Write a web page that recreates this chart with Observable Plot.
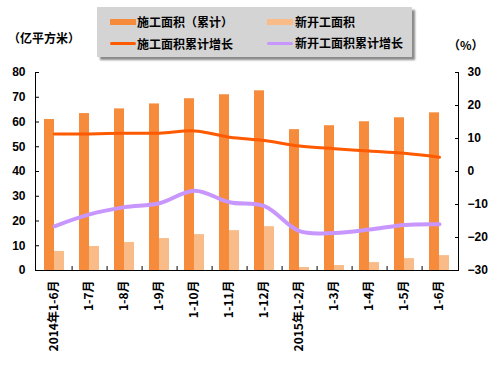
<!DOCTYPE html>
<html><head><meta charset="utf-8">
<script src="https://cdn.jsdelivr.net/npm/d3@7"></script>
<script src="https://cdn.jsdelivr.net/npm/@observablehq/plot@0.6"></script>
<style>
body{margin:0;background:#fff;font-family:"Noto Sans CJK SC",sans-serif;}
#wrap{position:relative;width:496px;height:365px;}
#legend{position:absolute;left:97px;top:7px;width:315px;height:50px;background:#d4d4d4;box-shadow:3px 3px 2px #8a8a8a;}
.it{position:absolute;font-size:12px;font-weight:bold;line-height:14px;color:#000;white-space:nowrap;}
.sw{position:absolute;}
.unit{position:absolute;font-size:12px;font-weight:bold;color:#000;white-space:nowrap;}
</style></head>
<body><div id="wrap">
<div id="chart"></div>
<div id="legend"></div>
<div class="unit" style="left:8px;top:29px;">（亿平方米）</div>
<div class="unit" style="left:448px;top:36px;">（%）</div>
</div>
<script>
const categories = ["2014年1-6月","1-7月","1-8月","1-9月","1-10月","1-11月","1-12月","2015年1-2月","1-3月","1-4月","1-5月","1-6月"];
const constructionArea = [61.0,63.4,65.3,67.3,69.4,71.0,72.6,56.9,58.5,60.1,61.7,63.7];
const newStartArea = [7.7,9.7,11.3,12.9,14.5,16.1,17.7,1.2,2.0,3.2,4.8,6.0];
const constructionGrowth = [11.4,11.4,11.6,11.6,12.3,10.4,9.4,7.7,6.9,6.2,5.5,4.3];
const newStartGrowth = [-16.6,-13.0,-10.8,-9.6,-5.8,-9.3,-10.5,-18.1,-18.6,-17.6,-16.2,-16.0];
const leftTicks = [0,10,20,30,40,50,60,70,80];
const rightTicks = [-30,-20,-10,0,10,20,30];
const seriesNames = ["施工面积（累计）","新开工面积","施工面积累计增长","新开工面积累计增长"];
const colors = ["#f68b3c","#f9bb88","#ff5a00","#c896ff"];

const toLeft = p => (p + 30) * 80 / 60;
const fromLeft = v => Math.round(v * 60 / 80 - 30);

const bars = categories.map((c,i)=>({c, a: constructionArea[i], n: newStartArea[i], g1: toLeft(constructionGrowth[i]), g2: toLeft(newStartGrowth[i])}));
const font = "Liberation Sans";
const chart = Plot.plot({
  width: 496, height: 365,
  marginLeft: 35, marginRight: 38, marginTop: 72, marginBottom: 95,
  style: {fontFamily: "'Liberation Sans','Noto Sans CJK SC',sans-serif", fontSize: "12px", fontWeight: "bold", color: "#000", background: "transparent"},
  x: {domain: categories, paddingInner: 0.716, paddingOuter: 0.358, label: null},
  y: {domain: [0, 80], label: null},
  marks: [
    Plot.barY(bars, {x: "c", y: "a", fill: colors[0], dx: -5}),
    Plot.barY(bars, {x: "c", y: "n", fill: colors[1], dx: 5}),
    Plot.line(bars, {x: "c", y: "g1", stroke: colors[2], strokeWidth: 3, curve: "catmull-rom"}),
    Plot.line(bars, {x: "c", y: "g2", stroke: colors[3], strokeWidth: 4, curve: "catmull-rom"}),
    Plot.ruleX(categories.slice(0, -1), {x: d => d, dx: 17.6, y1: 0, y2: 1.6, stroke: "#000"}),
    Plot.frame({anchor: "left", stroke: "#000"}),
    Plot.frame({anchor: "right", stroke: "#000"}),
    Plot.frame({anchor: "bottom", stroke: "#000"}),
    Plot.axisY(leftTicks, {anchor: "left", tickSize: -4, tickPadding: 14, label: null, fontWeight: "bold"}),
    Plot.axisY(rightTicks.map(toLeft), {anchor: "right", tickSize: -4, tickPadding: 13, tickFormat: v => { const r = fromLeft(v); return r < 0 ? "\u2212" + (-r) : String(r); }, label: null, textAnchor: "start"}),
    Plot.axisX({tickRotate: -90, tickSize: 0, tickPadding: 10, label: null, fontFamily: "'Noto Sans CJK SC',sans-serif"})
  ]
});
document.getElementById("chart").appendChild(chart);

const leg = document.getElementById("legend");
const items = [
  {x: 13, y: 11.5, w: 26, h: 6, name: seriesNames[0], col: colors[0], tx: 40},
  {x: 170, y: 11.5, w: 26, h: 6, name: seriesNames[1], col: colors[1], tx: 198},
  {x: 13, y: 35, w: 26, h: 3, name: seriesNames[2], col: colors[2], tx: 40},
  {x: 170, y: 34.5, w: 26, h: 3.5, name: seriesNames[3], col: colors[3], tx: 198}
];
for (const it of items) {
  const s = document.createElement("div");
  s.className = "sw";
  s.style.cssText = `left:${it.x}px;top:${it.y}px;width:${it.w}px;height:${it.h}px;background:${it.col};border-radius:${it.h<5?2:0}px;`;
  leg.appendChild(s);
  const t = document.createElement("div");
  t.className = "it";
  t.style.left = it.tx + "px";
  t.style.top = (it.y + it.h/2 - 7) + "px";
  t.textContent = it.name;
  leg.appendChild(t);
}
</script>
</body></html>
